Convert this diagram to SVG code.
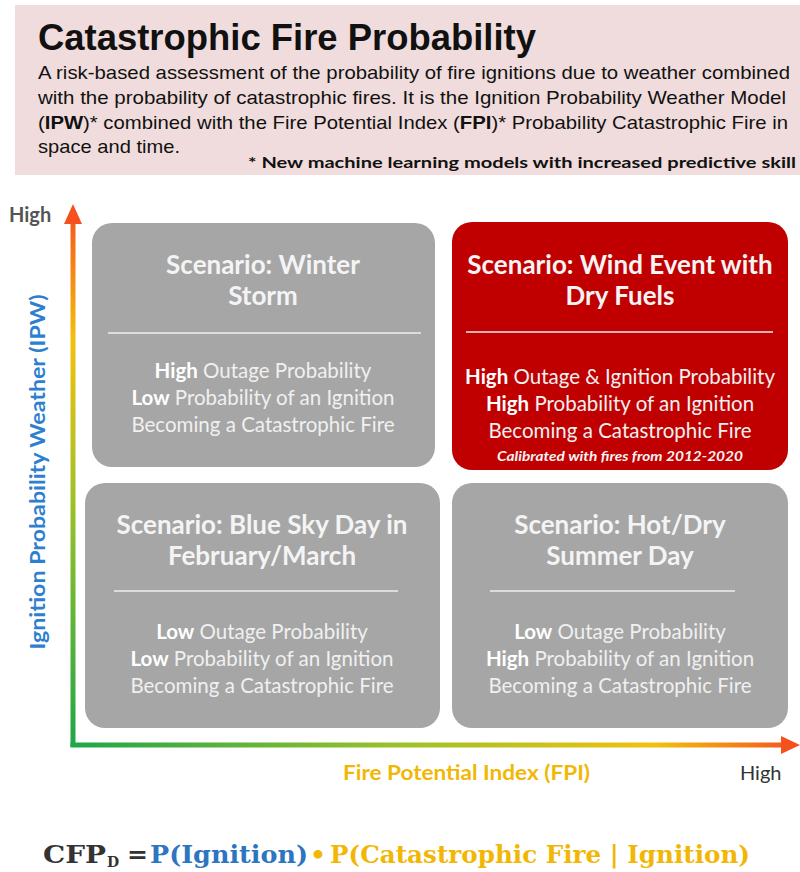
<svg xmlns="http://www.w3.org/2000/svg" width="800" height="872" viewBox="0 0 800 872">
<defs>
<linearGradient id="gv" gradientUnits="userSpaceOnUse" x1="0" y1="747" x2="0" y2="205">
<stop offset="0" stop-color="#1fa648"/>
<stop offset="0.45" stop-color="#9cc12a"/>
<stop offset="0.75" stop-color="#f2c10e"/>
<stop offset="1" stop-color="#f4511e"/>
</linearGradient>
<linearGradient id="gh" gradientUnits="userSpaceOnUse" x1="71" y1="0" x2="800" y2="0">
<stop offset="0" stop-color="#1fa648"/>
<stop offset="0.45" stop-color="#9cc12a"/>
<stop offset="0.8" stop-color="#f2c10e"/>
<stop offset="1" stop-color="#f4511e"/>
</linearGradient>
<style>
.hdr{font-family:"Liberation Sans",Arial,sans-serif;fill:#111}
.body{font-size:19px}
.box{fill:#a6a6a6}
.red{fill:#c00000}
.bt{font-family:Lato,"Open Sans",sans-serif;font-weight:bold;font-size:26px;fill:#f4f4f4;text-anchor:middle}
.bd{font-family:Lato,"Open Sans",sans-serif;font-size:20.5px;fill:#f0f0f0;text-anchor:middle}
.bd tspan.b{font-weight:bold;fill:#fff}
.div{stroke:#eeeeee;stroke-width:1.5}
.ax{font-family:Lato,"Open Sans",sans-serif;font-weight:bold;font-size:20px}
.axn{font-family:Lato,"Open Sans",sans-serif;font-weight:normal;font-size:20px}
.fm{font-family:"DejaVu Serif","Liberation Serif",serif;font-weight:bold;font-size:25px}
.sub{font-family:"DejaVu Serif","Liberation Serif",serif;font-weight:bold;font-size:14px}
</style>
</defs>
<g id="header">
<rect x="15" y="5" width="785" height="170" fill="#f0dcdc"/>
<text class="hdr" x="38" y="50" font-size="37" font-weight="bold" textLength="498" lengthAdjust="spacingAndGlyphs">Catastrophic Fire Probability</text>
<text class="hdr body" x="38" y="79" textLength="752" lengthAdjust="spacingAndGlyphs">A risk-based assessment of the probability of fire ignitions due to weather combined</text>
<text class="hdr body" x="38" y="104" textLength="748" lengthAdjust="spacingAndGlyphs">with the probability of catastrophic fires. It is the Ignition Probability Weather Model</text>
<text class="hdr body" x="38" y="129" textLength="750" lengthAdjust="spacingAndGlyphs">(<tspan font-weight="bold">IPW</tspan>)* combined with the Fire Potential Index (<tspan font-weight="bold">FPI</tspan>)* Probability Catastrophic Fire in</text>
<text class="hdr body" x="38" y="153" textLength="142" lengthAdjust="spacingAndGlyphs">space and time.</text>
<text x="796" y="168" text-anchor="end" font-family="Lato,'Open Sans',sans-serif" font-weight="bold" font-size="16" fill="#111" textLength="548" lengthAdjust="spacingAndGlyphs">* New machine learning models with increased predictive skill</text>
</g>
<g id="connectors">
<rect x="70.5" y="220" width="5" height="527" fill="url(#gv)"/>
<rect x="70.5" y="742.5" width="713" height="5" fill="url(#gh)"/>
<polygon points="73,204 82,224 64,224" fill="#f4511e"/>
<polygon points="800,745 781,736 781,754" fill="#f4511e"/>
</g>
<g id="axis-labels">
<text class="ax" x="9" y="222" fill="#555">High</text>
<text class="axn" x="740" y="780" fill="#333">High</text>
<text class="ax" x="343" y="780" fill="#f2b705" textLength="247" lengthAdjust="spacingAndGlyphs">Fire Potential Index (FPI)</text>
<text class="ax" transform="translate(45,472) rotate(-90)" fill="#2e7fd0" text-anchor="middle" textLength="355" lengthAdjust="spacingAndGlyphs">Ignition Probability Weather (IPW)</text>
</g>
<g id="winter-storm">
<rect class="box" x="92" y="223" width="343" height="244" rx="20"/>
<text class="bt" x="263" y="274">Scenario: Winter</text>
<text class="bt" x="263" y="305">Storm</text>
<line class="div" x1="108" y1="333" x2="421" y2="333"/>
<text class="bd" x="263" y="378"><tspan class="b">High</tspan> Outage Probability</text>
<text class="bd" x="263" y="405"><tspan class="b">Low</tspan> Probability of an Ignition</text>
<text class="bd" x="263" y="432">Becoming a Catastrophic Fire</text>
</g>
<g id="wind-event">
<rect class="red" x="452" y="222" width="336" height="248" rx="20"/>
<text class="bt" x="620" y="274">Scenario: Wind Event with</text>
<text class="bt" x="620" y="305">Dry Fuels</text>
<line class="div" x1="466" y1="332" x2="773" y2="332"/>
<text class="bd" x="620" y="384"><tspan class="b">High</tspan> Outage &amp; Ignition Probability</text>
<text class="bd" x="620" y="411"><tspan class="b">High</tspan> Probability of an Ignition</text>
<text class="bd" x="620" y="438">Becoming a Catastrophic Fire</text>
<text x="620" y="461" text-anchor="middle" font-family="Lato,'Open Sans',sans-serif" font-weight="bold" font-style="italic" font-size="13.5" fill="#f4f4f4" textLength="246" lengthAdjust="spacingAndGlyphs">Calibrated with fires from 2012-2020</text>
</g>
<g id="blue-sky">
<rect class="box" x="85" y="483" width="355" height="245" rx="20"/>
<text class="bt" x="262" y="534">Scenario: Blue Sky Day in</text>
<text class="bt" x="262" y="565">February/March</text>
<line class="div" x1="114" y1="591" x2="398" y2="591"/>
<text class="bd" x="262" y="639"><tspan class="b">Low</tspan> Outage Probability</text>
<text class="bd" x="262" y="666"><tspan class="b">Low</tspan> Probability of an Ignition</text>
<text class="bd" x="262" y="693">Becoming a Catastrophic Fire</text>
</g>
<g id="hot-dry">
<rect class="box" x="452" y="483" width="336" height="245" rx="20"/>
<text class="bt" x="620" y="534">Scenario: Hot/Dry</text>
<text class="bt" x="620" y="565">Summer Day</text>
<line class="div" x1="490" y1="591" x2="735" y2="591"/>
<text class="bd" x="620" y="639"><tspan class="b">Low</tspan> Outage Probability</text>
<text class="bd" x="620" y="666"><tspan class="b">High</tspan> Probability of an Ignition</text>
<text class="bd" x="620" y="693">Becoming a Catastrophic Fire</text>
</g>
<g id="formula">
<text class="fm" x="43" y="863" fill="#333" textLength="63" lengthAdjust="spacingAndGlyphs">CFP</text>
<text class="sub" x="107" y="867" fill="#333">D</text>
<text class="fm" x="127" y="863" fill="#333">=</text>
<text class="fm" x="150" y="863" fill="#2e75c0" textLength="158" lengthAdjust="spacingAndGlyphs">P(Ignition)</text>
<text class="fm" x="318" y="863" fill="#f2b705" text-anchor="middle">•</text>
<text class="fm" x="330" y="863" fill="#f2b705" textLength="420" lengthAdjust="spacingAndGlyphs">P(Catastrophic Fire | Ignition)</text>
</g>
</svg>
